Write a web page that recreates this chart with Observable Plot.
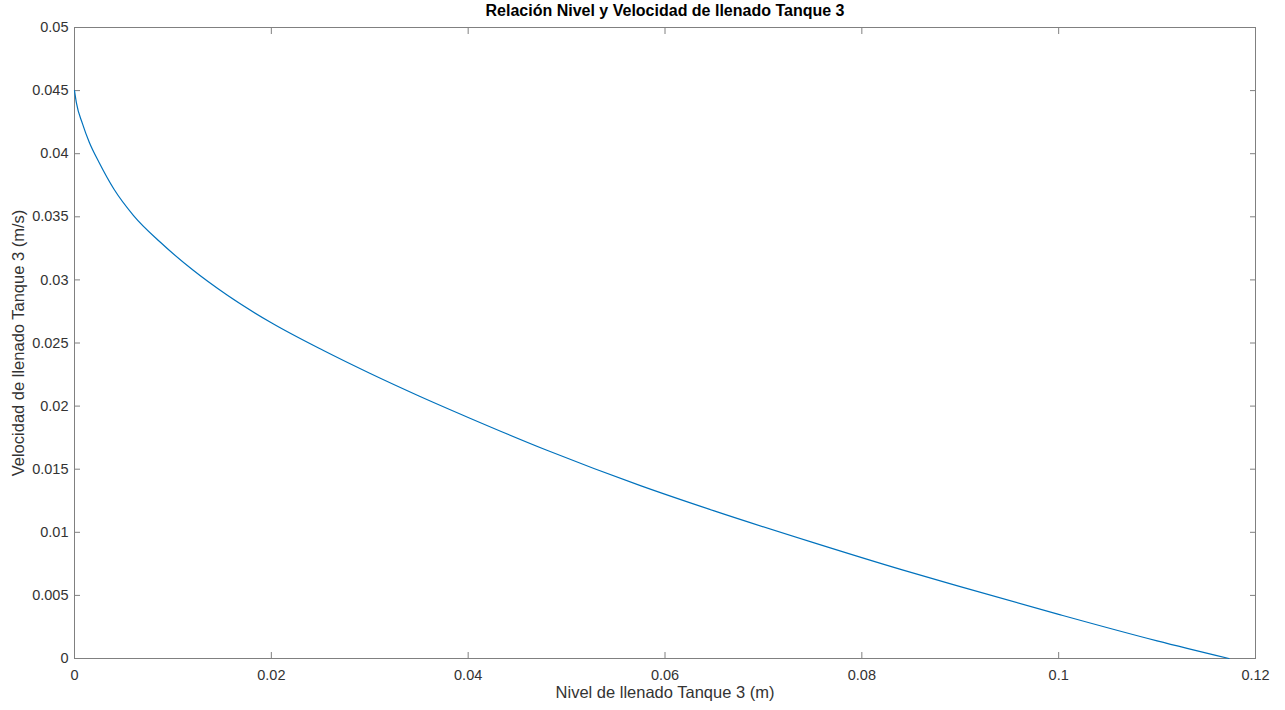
<!DOCTYPE html>
<html>
<head>
<meta charset="utf-8">
<script src="https://cdn.jsdelivr.net/npm/d3@7"></script>
<script src="https://cdn.jsdelivr.net/npm/@observablehq/plot@0.6"></script>
<style>
  html, body { margin: 0; padding: 0; background: #fff; }
  #title { height: 0; width: 1285px; position: relative; z-index: 2; font-family: "Liberation Sans", Arial, sans-serif; font-weight: bold; font-size: 16px; color: #000; }
  #title span { position: absolute; left: 665px; top: 2px; transform: translateX(-50%); white-space: nowrap; }
</style>
</head>
<body>
<div id="title"><span>Relación Nivel y Velocidad de llenado Tanque 3</span></div>
<div id="chart"></div>
<script>
// Nivel de llenado (m)
const nivel = [0, 0.0002, 0.0008, 0.0015, 0.0025, 0.004, 0.006, 0.0087, 0.012, 0.0155, 0.02, 0.0253, 0.03, 0.035, 0.04, 0.048, 0.0575, 0.065, 0.075, 0.0842, 0.09, 0.1, 0.11, 0.1173];
// Velocidad de llenado (m/s)
const velocidad = [0.045, 0.0440, 0.0424, 0.0409, 0.0393, 0.0372, 0.0351, 0.0330, 0.0308, 0.0288, 0.0266, 0.0244, 0.0226, 0.0208, 0.0191, 0.0165, 0.0137, 0.0117, 0.0092, 0.0070, 0.0057, 0.0035, 0.0014, 0];
const xTicks = [0, 0.02, 0.04, 0.06, 0.08, 0.1, 0.12];
const yTicks = [0, 0.005, 0.01, 0.015, 0.02, 0.025, 0.03, 0.035, 0.04, 0.045, 0.05];
const xLabel = "Nivel de llenado Tanque 3 (m)";
const yLabel = "Velocidad de llenado Tanque 3 (m/s)";

const data = nivel.map((h, i) => ({h, v: velocidad[i]}));
const fmt = d => String(+d.toFixed(4));
const axisColor = "#808080";
const textColor = "#333";
const font = "Liberation Sans, Arial, sans-serif";

const chart = Plot.plot({
  width: 1285,
  height: 710,
  marginTop: 27,
  marginBottom: 52,
  marginLeft: 74,
  marginRight: 30,
  style: {fontFamily: font, fontSize: "14.5px", color: textColor, background: "transparent"},
  x: {domain: [0, 0.12], ticks: xTicks, tickFormat: fmt},
  y: {domain: [0, 0.05], ticks: yTicks, tickFormat: fmt},
  marks: [
    Plot.frame({stroke: axisColor, strokeWidth: 1}),
    // tick labels
    Plot.axisX(xTicks, {anchor: "bottom", tickSize: 0, tickPadding: 11, label: null, tickFormat: fmt, fill: textColor}),
    Plot.axisY(yTicks, {anchor: "left", tickSize: 0, tickPadding: 6, label: null, tickFormat: fmt, fill: textColor}),
    // inward ticks
    Plot.axisX(xTicks, {anchor: "bottom", tickSize: 6, dy: -6, fill: "none", label: null, stroke: axisColor}),
    Plot.axisX(xTicks, {anchor: "top", tickSize: 6, dy: 6, fill: "none", label: null, stroke: axisColor}),
    Plot.axisY(yTicks, {anchor: "left", tickSize: 6, dx: 6, fill: "none", label: null, stroke: axisColor}),
    Plot.axisY(yTicks, {anchor: "right", tickSize: 6, dx: -6, fill: "none", label: null, stroke: axisColor}),
    Plot.line(data, {x: "h", y: "v", stroke: "#0072BD", strokeWidth: 1.2, curve: "monotone-x"}),
    Plot.text([xLabel], {text: d => d, frameAnchor: "bottom", textAnchor: "middle", dy: 39, fill: textColor, fontSize: 16.5}),
    Plot.text([yLabel], {text: d => d, frameAnchor: "left", textAnchor: "middle", dx: -56, rotate: -90, fill: textColor, fontSize: 16.5})
  ]
});
document.getElementById("chart").appendChild(chart);
</script>
</body>
</html>
